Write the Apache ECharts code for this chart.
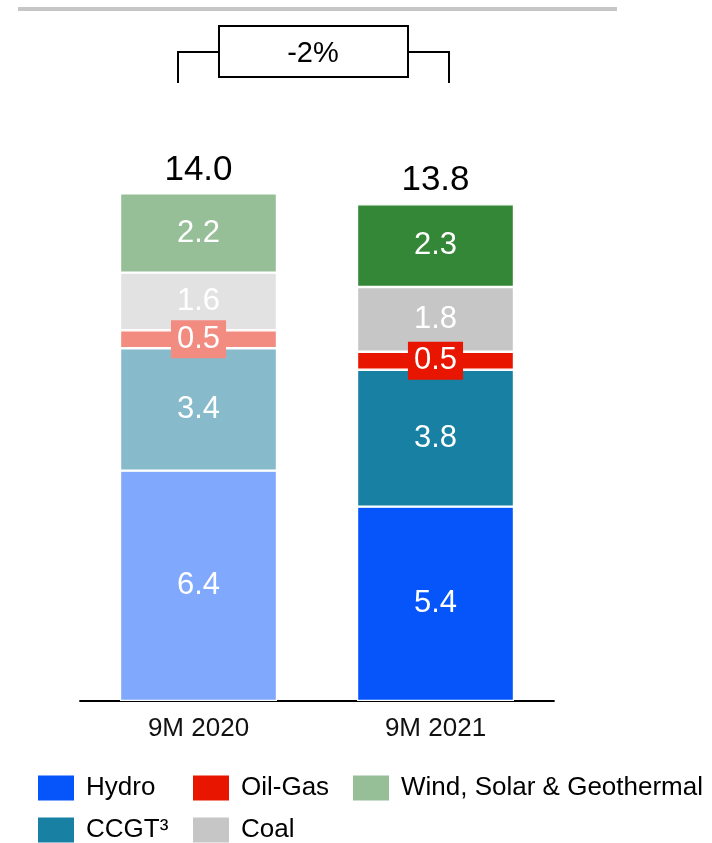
<!DOCTYPE html>
<html>
<head>
<meta charset="utf-8">
<title>Generation mix 9M 2020 vs 9M 2021</title>
<script src="https://cdn.jsdelivr.net/npm/echarts@6/dist/echarts.min.js"></script>
<style>
  html, body { margin: 0; padding: 0; background: #ffffff; }
  #chart { width: 712px; height: 843px; }
</style>
</head>
<body>
<div id="chart"></div>
<script>
// Periods on the category axis
const categories = ['9M 2020', '9M 2021'];

// Output by technology (TWh), one value per period
const hydro = [6.4, 5.4];
const ccgt = [3.4, 3.8];
const oilGas = [0.5, 0.5];
const coal = [1.6, 1.8];
const renewables = [2.2, 2.3];

// Reported totals and change between periods
const totals = [14.0, 13.8];
const changeLabel = '-2%';

// Series names as shown in the legend
const seriesNames = ['Hydro', 'CCGT³', 'Oil-Gas', 'Coal', 'Wind, Solar & Geothermal'];

const FONT = '"Liberation Sans", Arial, sans-serif';

// Per-period shades (lighter for prior year) and the legend swatch colour
const palette = {
  'Hydro':                    { shades: ['#80a8fc', '#0555fa'], legend: '#0555fa' },
  'CCGT³':                    { shades: ['#87bbcc', '#1780a3'], legend: '#1780a3' },
  'Oil-Gas':                  { shades: ['#f28b80', '#e81600'], legend: '#e81600' },
  'Coal':                     { shades: ['#e2e2e2', '#c6c6c6'], legend: '#c6c6c6' },
  'Wind, Solar & Geothermal': { shades: ['#96bf98', '#358738'], legend: '#96bf98' }
};

const valuesByName = {
  'Hydro': hydro,
  'CCGT³': ccgt,
  'Oil-Gas': oilGas,
  'Coal': coal,
  'Wind, Solar & Geothermal': renewables
};

function stackSeries(name) {
  const colours = palette[name];
  const isThin = name === 'Oil-Gas';
  return {
    name: name,
    type: 'bar',
    stack: 'mix',
    barWidth: 157,
    itemStyle: { color: colours.legend, borderColor: '#ffffff', borderWidth: 1.2 },
    label: {
      show: true,
      position: 'inside',
      color: '#ffffff',
      fontFamily: FONT,
      fontSize: 31,
      formatter: p => p.value.toFixed(1)
    },
    data: valuesByName[name].map((v, i) => ({
      value: v,
      itemStyle: { color: colours.shades[i] },
      label: isThin ? { backgroundColor: colours.shades[i], padding: [4, 6, 3, 6] } : {}
    })),
    z: isThin ? 3 : 2
  };
}

const series = seriesNames.map(stackSeries);

// Zero-height cap on each stack carrying the period total
series.push({
  name: 'Total',
  type: 'bar',
  stack: 'mix',
  barWidth: 157,
  itemStyle: { color: 'transparent', borderWidth: 0 },
  label: {
    show: true,
    position: 'top',
    distance: 6,
    color: '#000000',
    fontFamily: FONT,
    fontSize: 35,
    formatter: p => totals[p.dataIndex].toFixed(1)
  },
  data: totals.map(() => 0),
  silent: true
});

// One legend block per swatch so the entries sit on a fixed grid
const legendSlots = [
  { name: 'Hydro', left: 38, top: 775 },
  { name: 'Oil-Gas', left: 193, top: 775 },
  { name: 'Wind, Solar & Geothermal', left: 353, top: 775 },
  { name: 'CCGT³', left: 38, top: 817 },
  { name: 'Coal', left: 193, top: 817 }
];

const legends = legendSlots.map(s => ({
  data: [s.name],
  left: s.left,
  top: s.top,
  padding: 0,
  itemWidth: 36,
  itemHeight: 25,
  selectedMode: false,
  icon: 'rect',
  itemStyle: { borderWidth: 0 },
  textStyle: { fontFamily: FONT, fontSize: 26, color: '#000000', padding: [0, 0, 0, 7] }
}));

const chart = echarts.init(document.getElementById('chart'), null, { renderer: 'canvas' });

chart.setOption({
  backgroundColor: '#ffffff',
  animation: false,
  grid: { left: 80, right: 158, top: 161, bottom: 142 },
  xAxis: {
    type: 'category',
    data: categories,
    axisLine: { lineStyle: { color: '#000000', width: 1.8 } },
    axisTick: { show: false },
    axisLabel: { fontFamily: FONT, fontSize: 26, color: '#111111', margin: 15 }
  },
  yAxis: {
    type: 'value',
    min: 0,
    max: 15,
    show: false
  },
  legend: legends,
  series: series,
  graphic: [
    // Header rule
    { type: 'rect', left: 18, top: 7, shape: { width: 599, height: 4 }, style: { fill: '#c6c6c6' }, silent: true },
    // Change bracket
    { type: 'polyline', shape: { points: [[178, 83], [178, 52], [219, 52]] }, style: { stroke: '#000000', lineWidth: 2, fill: null }, silent: true },
    { type: 'polyline', shape: { points: [[408, 52], [449, 52], [449, 83]] }, style: { stroke: '#000000', lineWidth: 2, fill: null }, silent: true },
    { type: 'rect', shape: { x: 219, y: 26, width: 189, height: 51 }, style: { stroke: '#000000', lineWidth: 2, fill: '#ffffff' }, silent: true },
    { type: 'text', x: 313, y: 54, style: { text: changeLabel, fontFamily: FONT, fontSize: 29, fill: '#000000', align: 'center', verticalAlign: 'middle' }, silent: true }
  ]
});
</script>
</body>
</html>
